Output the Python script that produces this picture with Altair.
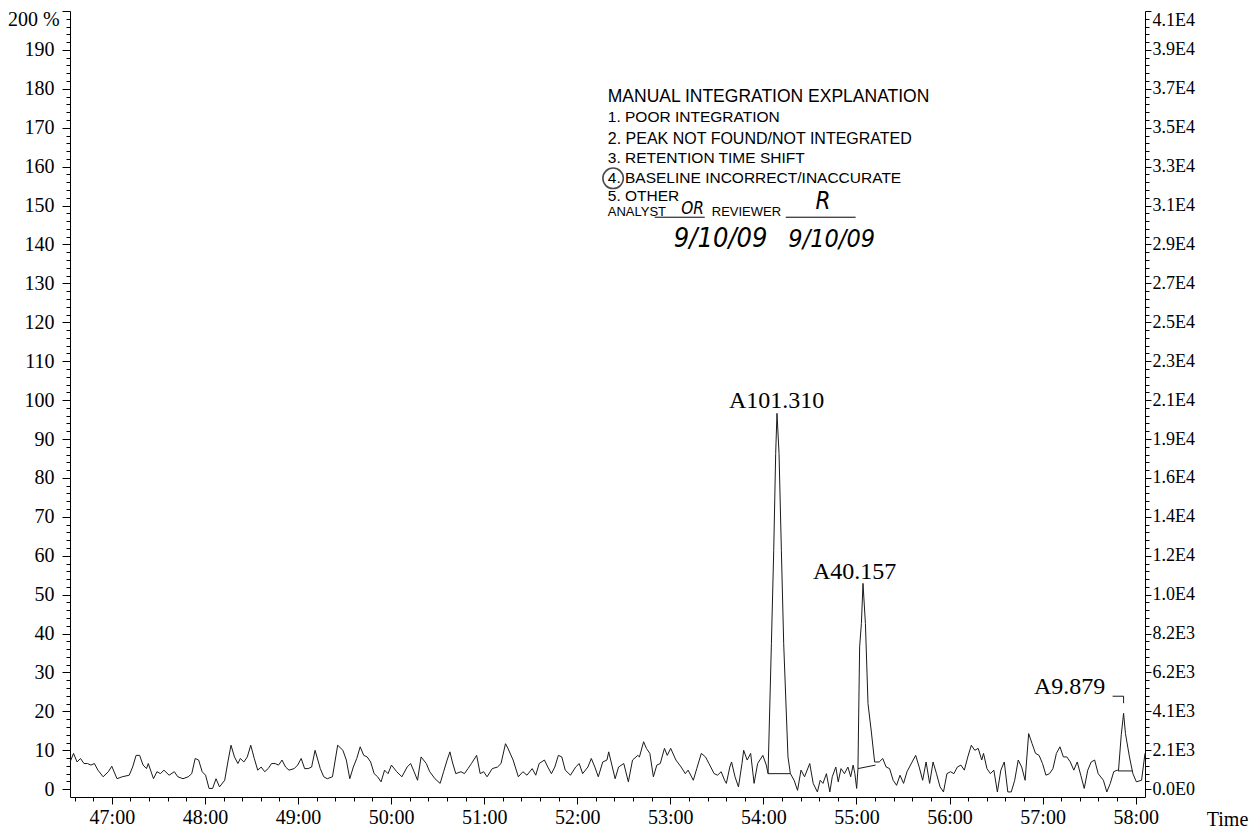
import altair as alt
import pandas as pd

# ---- chromatogram trace (time in minutes, relative intensity %) ----
trace_points = [
    (46.551, 7.0), (46.588, 9.2), (46.626, 7.0), (46.663, 7.9), (46.700, 6.6), (46.738, 6.6),
    (46.775, 6.2), (46.812, 6.6), (46.850, 4.9), (46.906, 3.2), (46.962, 4.5), (46.999, 5.9),
    (47.055, 2.7), (47.111, 3.2), (47.186, 3.6), (47.223, 5.7), (47.260, 8.7), (47.298, 8.7),
    (47.335, 6.2), (47.372, 5.3), (47.391, 6.6), (47.447, 2.7), (47.484, 4.5), (47.522, 4.0),
    (47.559, 4.9), (47.615, 3.6), (47.671, 4.5), (47.708, 3.2), (47.764, 2.7), (47.820, 3.2),
    (47.858, 4.0), (47.895, 7.9), (47.932, 7.5), (47.970, 4.5), (48.007, 3.6), (48.044, 0.2),
    (48.082, 0.2), (48.119, 2.7), (48.156, 0.6), (48.212, 2.3), (48.250, 7.5), (48.280, 11.3),
    (48.317, 8.3), (48.354, 6.6), (48.380, 7.9), (48.418, 7.0), (48.455, 8.3), (48.492, 11.3),
    (48.530, 7.9), (48.567, 4.9), (48.604, 5.7), (48.642, 4.5), (48.679, 5.3), (48.716, 6.6),
    (48.754, 6.6), (48.791, 6.2), (48.828, 7.5), (48.866, 5.7), (48.903, 4.9), (48.959, 5.3),
    (48.996, 6.2), (49.034, 7.9), (49.071, 5.3), (49.108, 5.3), (49.146, 5.7), (49.183, 10.0),
    (49.213, 7.5), (49.239, 5.3), (49.276, 3.2), (49.314, 2.7), (49.370, 3.2), (49.426, 11.3),
    (49.482, 10.0), (49.519, 7.5), (49.556, 2.7), (49.594, 5.7), (49.631, 7.9), (49.668, 10.9),
    (49.706, 8.7), (49.743, 8.3), (49.780, 7.0), (49.818, 4.0), (49.855, 3.2), (49.892, 1.9),
    (49.930, 4.9), (49.967, 4.0), (50.004, 6.2), (50.060, 4.5), (50.116, 3.2), (50.172, 5.7),
    (50.210, 6.6), (50.247, 4.5), (50.284, 2.3), (50.322, 8.3), (50.378, 6.6), (50.415, 4.5),
    (50.471, 2.7), (50.527, 1.5), (50.564, 4.5), (50.602, 7.5), (50.632, 9.6), (50.658, 7.0),
    (50.695, 4.0), (50.751, 4.5), (50.788, 4.0), (50.826, 5.3), (50.863, 6.6), (50.919, 8.7),
    (50.957, 4.0), (50.994, 4.5), (51.031, 3.2), (51.087, 5.3), (51.143, 5.7), (51.181, 6.6),
    (51.229, 11.7), (51.255, 10.5), (51.311, 7.5), (51.367, 3.2), (51.416, 4.5), (51.460, 3.6),
    (51.516, 5.3), (51.554, 3.6), (51.591, 6.6), (51.647, 7.5), (51.684, 5.7), (51.722, 4.0),
    (51.759, 5.7), (51.797, 8.7), (51.834, 8.3), (51.871, 4.9), (51.927, 3.6), (51.983, 5.7),
    (52.021, 6.6), (52.058, 4.0), (52.114, 5.7), (52.151, 7.9), (52.189, 5.7), (52.226, 3.2),
    (52.274, 7.0), (52.319, 7.5), (52.338, 9.6), (52.407, 2.7), (52.444, 5.7), (52.500, 6.6),
    (52.549, 1.9), (52.594, 7.5), (52.650, 8.7), (52.668, 8.3), (52.713, 12.2), (52.743, 10.5),
    (52.780, 9.2), (52.818, 3.2), (52.855, 6.2), (52.892, 6.6), (52.937, 10.5), (52.967, 8.7),
    (53.004, 10.5), (53.060, 7.5), (53.116, 5.7), (53.161, 4.0), (53.191, 4.9), (53.247, 2.3),
    (53.284, 5.3), (53.333, 9.2), (53.378, 8.3), (53.415, 6.6), (53.471, 4.0), (53.508, 3.6),
    (53.546, 4.5), (53.583, 2.3), (53.602, 1.5), (53.639, 5.7), (53.658, 7.0), (53.695, 3.2),
    (53.732, 0.6), (53.770, 6.6), (53.788, 10.0), (53.826, 7.5), (53.863, 9.2), (53.900, 1.5),
    (53.938, 6.6), (53.994, 8.7), (54.031, 6.2),
    # peak 1
    (54.050, 4.0), (54.086, 37.4), (54.111, 61.4), (54.132, 86.3), (54.146, 96.6), (54.168, 86.3),
    (54.193, 61.4), (54.218, 37.4), (54.264, 8.3), (54.290, 4.0),
    (54.330, 2.3), (54.367, -0.3), (54.404, 4.9), (54.442, 3.2), (54.498, 6.6), (54.535, 1.5),
    (54.580, -0.7), (54.610, 2.3), (54.640, 1.5), (54.677, 4.0), (54.714, -0.7), (54.740, 3.2),
    (54.778, 5.7), (54.804, 1.9), (54.834, 5.3), (54.871, 4.0), (54.908, 5.7), (54.938, 3.2),
    (54.964, 6.2), (54.983, 4.0), (55.002, 0.2),
    # peak 2
    (55.016, 5.3), (55.034, 36.6), (55.053, 42.6), (55.070, 52.9), (55.096, 42.6), (55.124, 22.0),
    (55.160, 14.7), (55.195, 7.0),
    (55.244, 7.0), (55.282, 7.9), (55.319, 5.7), (55.356, 5.3), (55.394, 2.3), (55.431, 1.0),
    (55.468, 3.6), (55.506, 1.5), (55.543, 4.5), (55.580, 6.2), (55.636, 8.7), (55.674, 5.7),
    (55.711, 2.3), (55.748, 7.0), (55.786, 1.5), (55.823, 7.0), (55.860, 4.0), (55.898, 0.6),
    (55.935, -0.7), (55.972, 4.0), (56.010, 4.5), (56.047, 4.0), (56.084, 5.7), (56.122, 6.2),
    (56.159, 4.9), (56.196, 8.3), (56.234, 11.3), (56.271, 10.0), (56.308, 10.5), (56.346, 7.5),
    (56.365, 9.2), (56.402, 5.3), (56.439, 4.0), (56.476, 4.9), (56.514, -0.7), (56.551, 4.9),
    (56.588, 7.0), (56.626, -0.7), (56.663, -0.7), (56.700, 2.3), (56.738, 7.5), (56.775, 5.7),
    (56.812, 2.3), (56.850, 14.3), (56.887, 11.7), (56.924, 9.2), (56.962, 8.7), (56.999, 6.6),
    (57.036, 3.6), (57.074, 4.0), (57.111, 5.3), (57.148, 9.2), (57.186, 10.9), (57.223, 8.3),
    (57.260, 8.3), (57.298, 7.0), (57.335, 4.9), (57.372, 7.0), (57.410, 3.6), (57.447, 0.2),
    (57.485, 4.9), (57.522, 7.0), (57.559, 7.5), (57.597, 4.0), (57.653, 2.3), (57.690, -0.7),
    (57.727, 1.5), (57.764, 4.5), (57.802, 4.9),
    # peak 3
    (57.815, 4.7), (57.845, 14.0), (57.870, 19.5), (57.890, 14.3), (57.933, 8.3), (57.970, 4.0),
    (58.007, 1.9), (58.063, 2.3), (58.100, 9.2),
]

# integration baselines and the small label bracket of peak 3
baseline_seg = ["b1", "b1", "b2", "b2", "b3", "b3", "k", "k", "k"]
baseline_time = [54.050, 54.290, 55.016, 55.205, 57.815, 57.965, 57.752, 57.870, 57.870]
baseline_value = [4.0, 4.0, 5.3, 6.2, 4.7, 4.7, 23.9, 23.9, 22.1]

peak_labels = ["A101.310", "A40.157", "A9.879"]
peak_label_time = [54.143, 54.980, 57.290]
peak_label_value = [99.7, 55.8, 26.2]

# axis tick labels
left_values = list(range(0, 201, 10))
right_labels = ["0.0E0", "2.1E3", "4.1E3", "6.2E3", "8.2E3", "1.0E4", "1.2E4", "1.4E4", "1.6E4",
                "1.9E4", "2.1E4", "2.3E4", "2.5E4", "2.7E4", "2.9E4", "3.1E4", "3.3E4", "3.5E4",
                "3.7E4", "3.9E4", "4.1E4"]

# manual-integration stamp text
stamp_lines = ["MANUAL INTEGRATION EXPLANATION", "1. POOR INTEGRATION",
               "2. PEAK NOT FOUND/NOT INTEGRATED", "3. RETENTION TIME SHIFT",
               "4. BASELINE INCORRECT/INACCURATE", "5. OTHER", "ANALYST", "REVIEWER"]
stamp_time = [52.328, 52.328, 52.328, 52.328, 52.328, 52.328, 52.328, 53.445]
stamp_value = [177.9, 172.7, 167.1, 162.2, 157.1, 152.4, 148.3, 148.3]
stamp_size = [17.5, 15.5, 16, 15.5, 15.5, 15.5, 13, 13]

hand_text = ["9/10/09", "9/10/09", "OR", "R"]
hand_time = [53.541, 54.734, 53.240, 54.640]
hand_value = [141.3, 141.3, 149.0, 150.8]
hand_size = [27, 25, 17, 24]

underline_x1 = [52.832, 54.240]
underline_x2 = [53.370, 54.991]
underline_v = [147.0, 147.0]

# ---- data frames ----
trace_df = pd.DataFrame(trace_points, columns=["t", "v"])
trace_df["o"] = range(len(trace_df))
base_df = pd.DataFrame({"seg": baseline_seg, "t": baseline_time, "v": baseline_value})
base_df["o"] = range(len(base_df))
plab_df = pd.DataFrame({"label": peak_labels, "t": peak_label_time, "v": peak_label_value})
stamp_df = pd.DataFrame({"txt": stamp_lines, "t": stamp_time, "v": stamp_value, "fs": stamp_size})
hand_df = pd.DataFrame({"txt": hand_text, "t": hand_time, "v": hand_value, "fs": hand_size})
ul_df = pd.DataFrame({"t": underline_x1, "t2": underline_x2, "v": underline_v})
circ_df = pd.DataFrame({"t": [52.385], "v": [157.0]})
top_df = pd.DataFrame({"v": [200], "txt": ["200 %"]})

SERIF = "Liberation Serif"
SANS = "Liberation Sans"
HAND = "Liberation Sans Narrow, DejaVu Sans Condensed, sans-serif"

x_values = [round(46.6 + 0.2 * k, 1) for k in range(58)]
is_int = "abs(datum.value - round(datum.value)) < 0.01"
x_axis = alt.Axis(
    values=x_values,
    labelExpr=f"{is_int} ? round(datum.value) + ':00' : ''",
    tickSize={"condition": {"test": is_int, "value": 7}, "value": 4},
    labelFont=SERIF, labelFontSize=20, labelColor="black", labelPadding=19,
    labelBaseline="alphabetic",
    labelOverlap=False, labelFlush=False, grid=False,
    domainColor="black", tickColor="black",
    title="Time", titleFont=SERIF, titleFontSize=20, titleFontWeight="normal",
    titleColor="black", titleX=1157, titleY=22, titleAlign="center", titleBaseline="middle",
)
x_scale = alt.Scale(domain=[46.55, 58.10], nice=False, zero=False)
y_scale = alt.Scale(domain=[-2, 200], nice=False, zero=False)

y_is10 = "datum.value % 10 == 0"
left_axis = alt.Axis(
    values=list(range(0, 201, 2)), orient="left",
    labelExpr=f"{y_is10} && datum.value < 200 ? format(datum.value, 'd') : ''",
    tickSize={"condition": {"test": y_is10, "value": 8}, "value": 4},
    labelFont=SERIF, labelFontSize=20, labelColor="black", labelPadding=8,
    labelOverlap=False, labelFlush=False, grid=False, title=None,
    domainColor="black", tickColor="black",
)
right_expr = "''"
for val, lab in zip(reversed(left_values), reversed(right_labels)):
    right_expr = f"datum.value == {val} ? '{lab}' : ({right_expr})"
right_axis = alt.Axis(
    values=list(range(0, 201, 2)), orient="right",
    labelExpr=right_expr,
    tickSize={"condition": {"test": y_is10, "value": 6}, "value": 4},
    labelFont=SERIF, labelFontSize=18, labelColor="black", labelPadding=1,
    labelOverlap=False, labelFlush=True, grid=False, title=None,
    domainColor="black", tickColor="black",
)


def X(f="t:Q"):
    return alt.X(f, scale=x_scale, axis=x_axis)


def Yn():
    return alt.Y("v:Q", scale=y_scale, axis=None)


trace = alt.Chart(trace_df).mark_line(color="#1a1a1a", strokeWidth=1).encode(
    x=X(), y=alt.Y("v:Q", scale=y_scale, axis=left_axis), order="o:Q"
)
baselines = alt.Chart(base_df).mark_line(color="#1a1a1a", strokeWidth=1).encode(
    x=X(), y=alt.Y("v:Q", scale=y_scale, axis=right_axis), detail="seg:N", order="o:Q"
)
plabels = alt.Chart(plab_df).mark_text(font=SERIF, fontSize=24, color="black",
                                       baseline="middle", align="center").encode(
    x=X(), y=Yn(), text="label:N"
)
stamp = alt.Chart(stamp_df).mark_text(font=SANS, color="black", align="left",
                                      baseline="middle").encode(
    x=X(), y=Yn(), text="txt:N",
    size=alt.Size("fs:Q", scale=None, legend=None)
)
hand = alt.Chart(hand_df).mark_text(font=HAND, fontStyle="italic", color="black",
                                    align="center", baseline="middle").encode(
    x=X(), y=Yn(), text="txt:N",
    size=alt.Size("fs:Q", scale=None, legend=None)
)
underlines = alt.Chart(ul_df).mark_rule(color="black", strokeWidth=1).encode(
    x=X(), x2="t2:Q", y=Yn()
)
circle = alt.Chart(circ_df).mark_point(shape="circle", filled=False, color="black",
                                       size=420, strokeWidth=1.6).encode(
    x=X(), y=Yn()
)
top_label = alt.Chart(top_df).mark_text(font=SERIF, fontSize=20, color="black",
                                        align="left", baseline="middle", dy=9).encode(
    x=alt.value(-62), y=Yn(), text="txt:N"
)

chart = alt.layer(
    trace, baselines, plabels, stamp, hand, underlines, circle, top_label
).resolve_scale(y="shared").resolve_axis(y="independent").properties(
    width=1075, height=786,
    autosize=alt.AutoSizeParams(type="none"),
    padding={"left": 62, "top": 3, "right": 105, "bottom": 33},
    background="white",
).configure_view(stroke=None)

chart.save("out.html", embed_options={"renderer": "svg", "actions": False})
